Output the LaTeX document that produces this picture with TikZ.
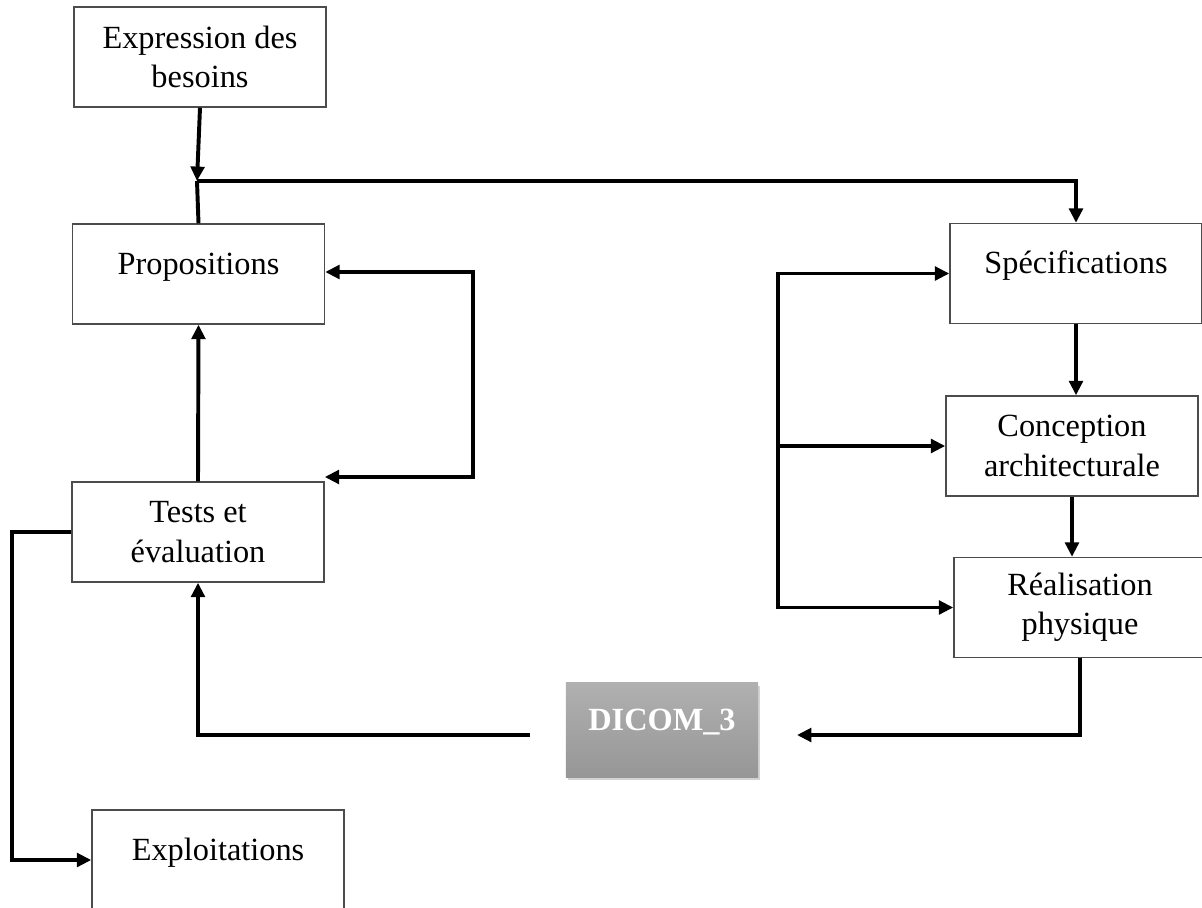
\documentclass[tikz,border=0pt]{standalone}
\usepackage{fontspec}
\setmainfont{Liberation Serif}
\usetikzlibrary{arrows.meta}
\usetikzlibrary{shadows}

\begin{document}
\begin{tikzpicture}[x=0.025cm,y=-0.025cm,
    >={Triangle[length=0.36cm,width=0.34cm]},
    phase/.style={draw=black!70,line width=1pt,fill=white,minimum width=6.3cm,minimum height=2.5cm,align=center,font=\fontsize{23}{28}\selectfont},
    oneline/.style={text height=0.5cm,text depth=0.5cm},
    flow/.style={line width=2.8pt}]
  \useasboundingbox (0,0) rectangle (1202,907);
  \node[phase] (besoins) at (200,57) {Expression des\\besoins};
  \node[phase,oneline] (propos) at (198.5,274) {Propositions};
  \node[phase] (tests) at (198,532) {Tests et\\évaluation};
  \node[phase,oneline] (exploit) at (218,860) {Exploitations};
  \node[phase,oneline] (specif) at (1076,273.5) {Spécifications};
  \node[phase] (concep) at (1072,446) {Conception\\architecturale};
  \node[phase] (realis) at (1080,607.5) {Réalisation\\physique};
  \node[phase,oneline,draw=none,top color=black!31,bottom color=black!41,minimum width=4.8cm,minimum height=2.35cm,text=white,font=\fontsize{23}{28}\selectfont\bfseries,drop shadow={shadow xshift=1.5pt,shadow yshift=-2pt,opacity=0.35}] (dicom) at (662,730) {DICOM\_3};

  \coordinate (j) at (197,181);
  \draw[flow,->] (besoins.south) -- (j);
  \draw[flow] (j) -- (propos.north);
  \draw[flow,->] (j) -- (j -| specif.north) -- (specif.north);
  \draw[flow,->] (tests.north) -- (propos.south);
  \coordinate (r1) at (473,272);
  \coordinate (r2) at (473,477);
  \draw[flow,<->] (propos.east |- r1) -- (r1) -- (r2) -- (tests.east |- r2);
  \coordinate (b) at (778,452);
  \draw[flow,<->] (specif.west) -- (specif.west -| b) -- (realis.west -| b) -- (realis.west);
  \draw[flow,->] (b |- concep.west) -- (concep.west);
  \draw[flow,->] (specif.south) -- (specif.south |- concep.north);
  \draw[flow,->] (concep.south) -- (concep.south |- realis.north);
  \coordinate (d1) at (797,735);
  \draw[flow,->] (realis.south) -- (realis.south |- d1) -- (d1);
  \coordinate (d0) at (530,735);
  \draw[flow,->] (d0) -- (d0 -| tests.south) -- (tests.south);
  \coordinate (e) at (12,532);
  \draw[flow,->] (tests.west) -- (e) -- (e |- exploit.west) -- (exploit.west);
\end{tikzpicture}
\end{document}
